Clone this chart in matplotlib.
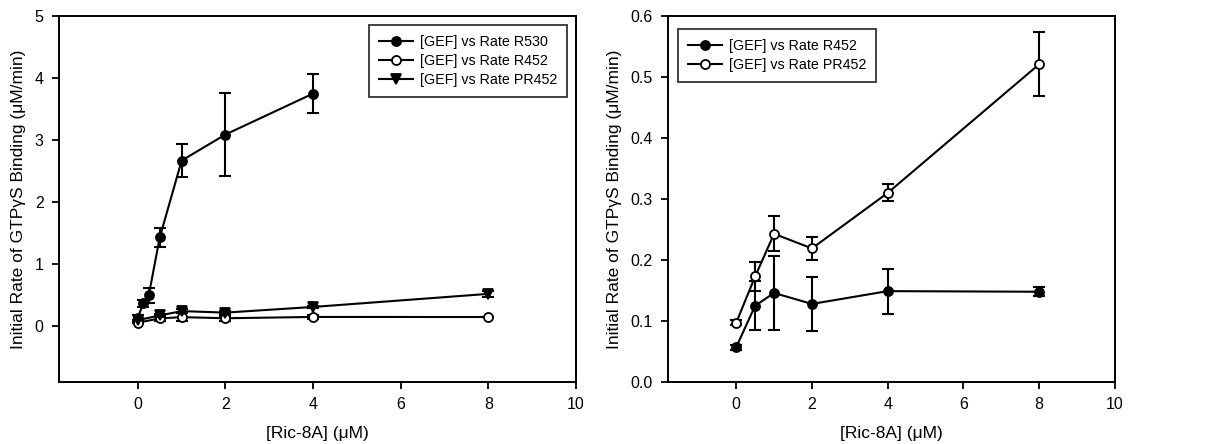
import matplotlib
matplotlib.use("Agg")
import matplotlib.pyplot as plt

plt.rcParams['font.family'] = ['Liberation Sans', 'DejaVu Sans']

# Ric-8A concentrations (uM)
x_r530 = [0, 0.125, 0.25, 0.5, 1, 2, 4]
x_452 = [0, 0.5, 1, 2, 4, 8]

# Initial rates (uM/min) and standard deviations
r530 = [0.14, 0.37, 0.50, 1.43, 2.67, 3.09, 3.75]
r530_err = [0.04, 0.06, 0.12, 0.15, 0.27, 0.67, 0.31]

r452 = [0.057, 0.125, 0.146, 0.128, 0.149, 0.148]
r452_err = [0.004, 0.040, 0.061, 0.044, 0.037, 0.007]

pr452 = [0.097, 0.173, 0.243, 0.219, 0.310, 0.521]
pr452_err = [0.004, 0.024, 0.029, 0.019, 0.014, 0.052]

xticks = [0, 2, 4, 6, 8, 10]
left_yticks = [0, 1, 2, 3, 4, 5]
right_yticks = [0.0, 0.1, 0.2, 0.3, 0.4, 0.5, 0.6]

ylabel = "Initial Rate of GTPγS Binding (μM/min)"
xlabel = "[Ric-8A] (μM)"

fig = plt.figure(figsize=(12.06, 4.44), dpi=100)
ax1 = fig.add_axes([0.0489, 0.1396, 0.4287, 0.8243])
ax2 = fig.add_axes([0.5539, 0.1396, 0.3706, 0.8243])


def series(ax, x, y, err, marker, face, label, ms=6.5):
    ax.errorbar(x, y, yerr=err, fmt='none', ecolor='black', elinewidth=1.5,
                capsize=4, capthick=1.5)
    ax.plot(x, y, color='black', lw=1.5, marker=marker, markersize=ms,
            markerfacecolor=face, markeredgecolor='black',
            markeredgewidth=1.3, label=label)


series(ax1, x_r530, r530, r530_err, 'o', 'black', '[GEF] vs Rate R530')
series(ax1, x_452, r452, r452_err, 'o', 'white', '[GEF] vs Rate R452')
series(ax1, x_452, pr452, pr452_err, 'v', 'black', '[GEF] vs Rate PR452',
       ms=7)

series(ax2, x_452, r452, r452_err, 'o', 'black', '[GEF] vs Rate R452')
series(ax2, x_452, pr452, pr452_err, 'o', 'white', '[GEF] vs Rate PR452')

ax1.set_xlim(-1.8, 10)
ax1.set_ylim(-0.9, 5)
ax1.set_yticks(left_yticks)
ax2.set_xlim(-1.8, 10)
ax2.set_ylim(0, 0.6)
ax2.set_yticks(right_yticks)
ax2.set_yticklabels([f"{v:.1f}" for v in right_yticks])

for ax in (ax1, ax2):
    ax.set_xticks(xticks)
    for s in ax.spines.values():
        s.set_linewidth(1.4)
    ax.tick_params(direction='out', length=5, width=1.3, labelsize=11.5,
                   colors='black', pad=6)
    ax.set_xlabel(xlabel, fontsize=12.5, labelpad=10)
    ax.set_ylabel(ylabel, fontsize=12.5, labelpad=6)

for ax in (ax1, ax2):
    h, l = ax.get_legend_handles_labels()
    if ax is ax1:
        loc, anchor = 'upper right', (0.983, 0.975)
    else:
        loc, anchor = 'upper left', (0.022, 0.964)
    leg = ax.legend(h, l, loc=loc, bbox_to_anchor=anchor, borderaxespad=0,
                    fontsize=10.3, frameon=True, fancybox=False,
                    edgecolor='black', handlelength=2.4, handletextpad=0.45,
                    borderpad=0.7, labelspacing=0.33)
    leg.get_frame().set_linewidth(1.3)

fig.savefig("out.png", dpi=100, facecolor='white')
